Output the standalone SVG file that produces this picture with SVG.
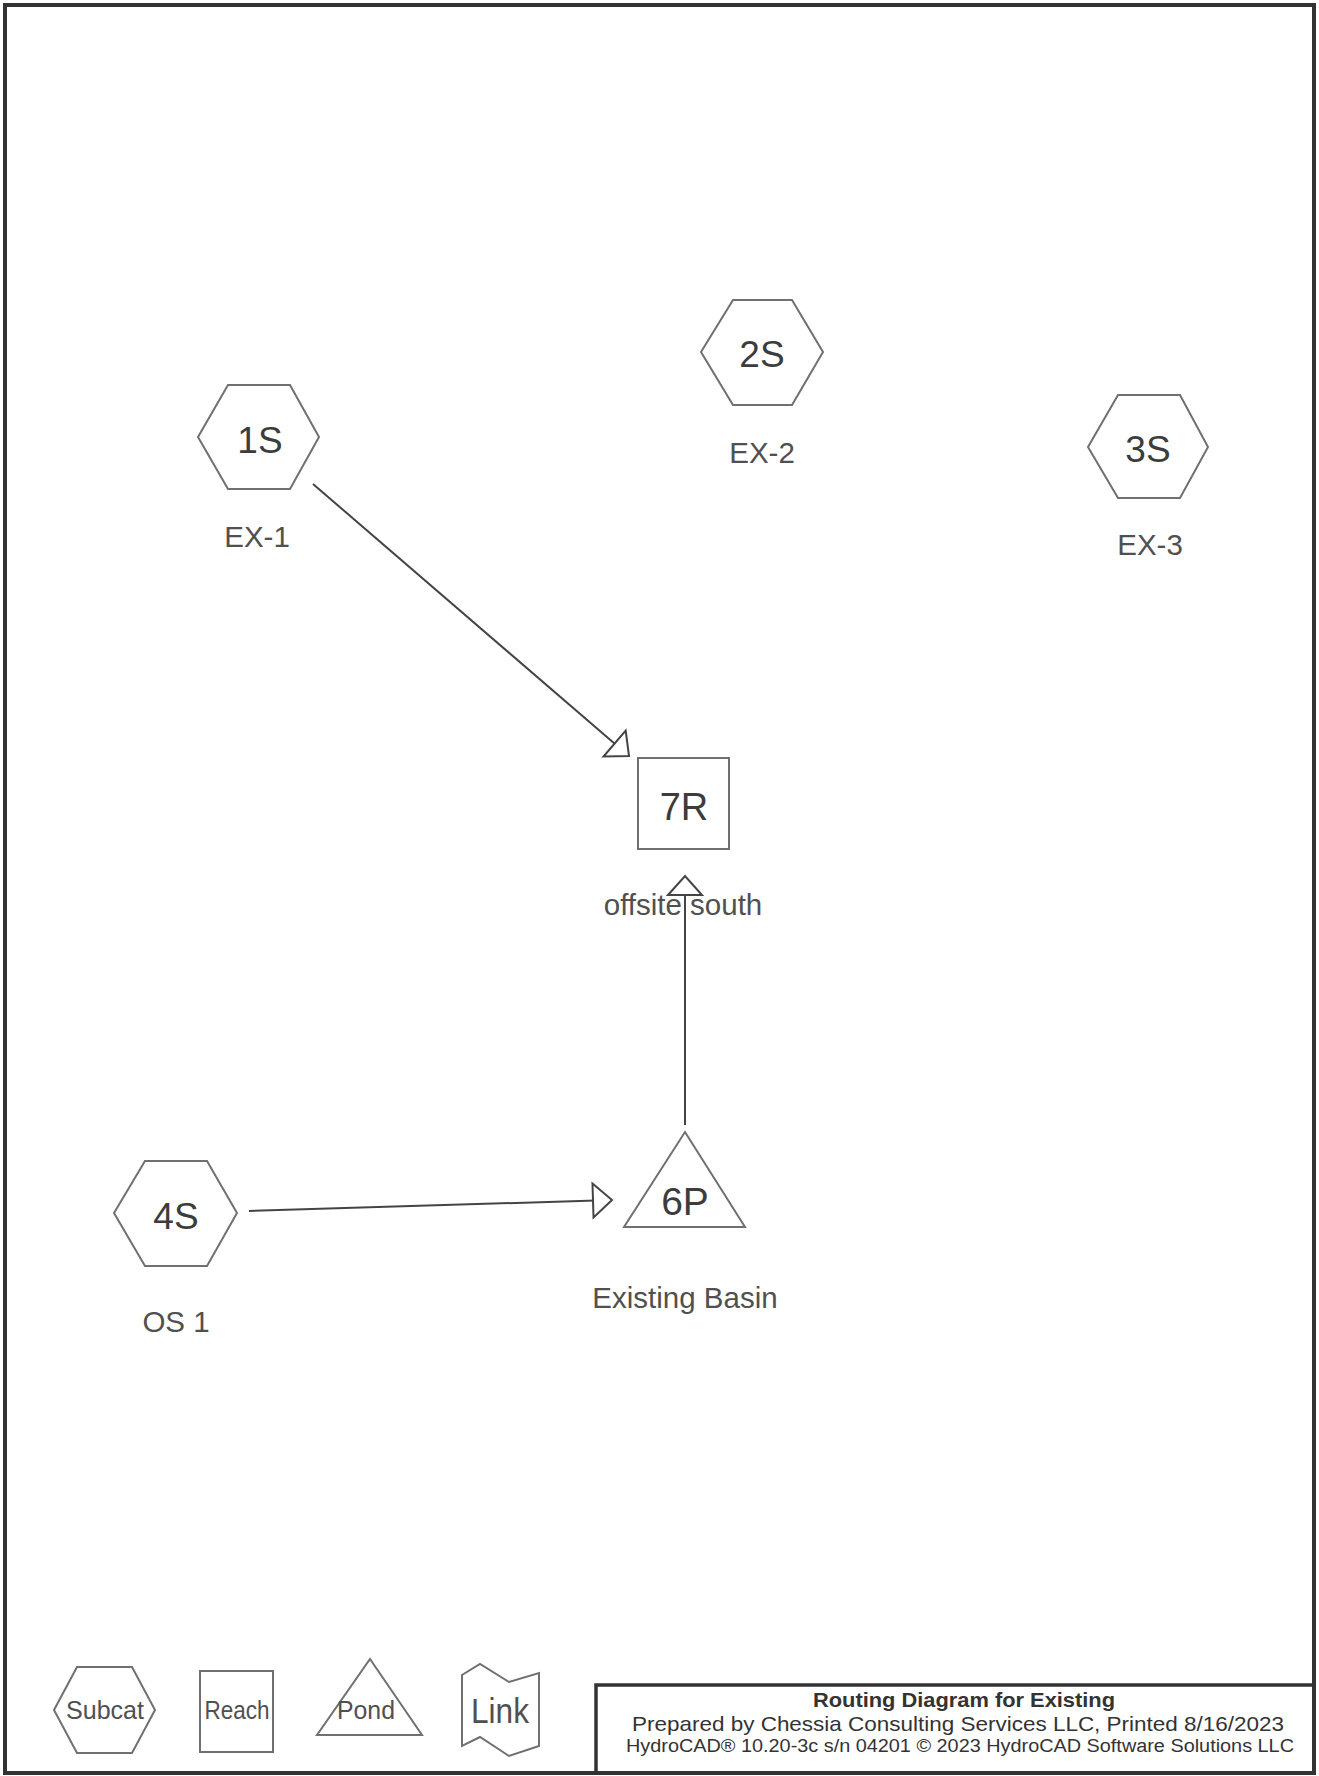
<svg xmlns="http://www.w3.org/2000/svg" width="1319" height="1776" viewBox="0 0 1319 1776">
<style>
.shape{fill:#fff;stroke:#707070;stroke-width:2}
.id{font-family:"Liberation Sans",Arial,sans-serif;font-size:37px;fill:#3c3c3c;text-anchor:middle}
.lbl{font-family:"Liberation Sans",Arial,sans-serif;font-size:29.5px;fill:#505050;text-anchor:middle}
.leg{font-family:"Liberation Sans",Arial,sans-serif;font-size:25px;fill:#505050;text-anchor:middle}
.conn{stroke:#444;stroke-width:2;fill:none}
.ft{font-family:"Liberation Sans",Arial,sans-serif;fill:#333;text-anchor:middle}
</style>
<defs>
<marker id="arr" markerUnits="userSpaceOnUse" markerWidth="24" markerHeight="40" viewBox="-2 -19 24 38" refX="19" refY="0" orient="auto">
<path d="M0,-17 L19,0 L0,17 Z" fill="#fff" stroke="#444" stroke-width="2"/>
</marker>
</defs>
<rect width="1319" height="1776" fill="#fff"/>
<rect x="5" y="5" width="1309" height="1768" fill="none" stroke="#333" stroke-width="4"/>

<g id="connectors">
<line class="conn" x1="313" y1="484" x2="629" y2="756" marker-end="url(#arr)"/>
<line class="conn" x1="685" y1="1125" x2="685" y2="876" marker-end="url(#arr)"/>
<line class="conn" x1="249" y1="1211" x2="612" y2="1200" marker-end="url(#arr)"/>
</g>

<g id="node-1S">
<polygon class="shape" points="198,437 228,385 290,385 319,437 290,489 228,489"/>
<text class="id" x="260" y="453">1S</text>
<text class="lbl" x="257" y="547">EX-1</text>
</g>
<g id="node-2S">
<polygon class="shape" points="701,352 733,300 792,300 823,352 792,405 733,405"/>
<text class="id" x="762" y="367">2S</text>
<text class="lbl" x="762" y="463">EX-2</text>
</g>
<g id="node-3S">
<polygon class="shape" points="1088,447 1118,395 1180,395 1208,447 1180,498 1118,498"/>
<text class="id" x="1148" y="462">3S</text>
<text class="lbl" x="1150" y="555">EX-3</text>
</g>
<g id="node-4S">
<polygon class="shape" points="114,1213 145,1161 207,1161 237,1213 207,1266 145,1266"/>
<text class="id" x="176" y="1229">4S</text>
<text class="lbl" x="176" y="1332">OS 1</text>
</g>
<g id="node-7R">
<rect class="shape" x="638" y="758" width="91" height="91"/>
<text class="id" x="684" y="820" style="font-size:38px">7R</text>
<text class="lbl" x="683" y="915">offsite south</text>
</g>
<g id="node-6P">
<polygon class="shape" points="685,1132 745,1227 624,1227"/>
<text class="id" x="685" y="1215" style="font-size:39px">6P</text>
<text class="lbl" x="685" y="1308">Existing Basin</text>
</g>

<g id="legend">
<g id="legend-subcat">
<polygon class="shape" points="54,1710 77,1667 132,1667 155,1710 132,1753 77,1753"/>
<text class="leg" x="105" y="1719" textLength="78" lengthAdjust="spacingAndGlyphs">Subcat</text>
</g>
<g id="legend-reach">
<rect class="shape" x="200" y="1671" width="73" height="81"/>
<text class="leg" x="237" y="1719" textLength="65" lengthAdjust="spacingAndGlyphs">Reach</text>
</g>
<g id="legend-pond">
<polygon class="shape" points="370,1659 422,1735 317,1735"/>
<text class="leg" x="366" y="1719" textLength="58" lengthAdjust="spacingAndGlyphs">Pond</text>
</g>
<g id="legend-link">
<polygon class="shape" points="462,1675 480,1664 509,1682 539,1673 539,1746 509,1756 480,1737 462,1746"/>
<text class="leg" x="500" y="1723" style="font-size:35px" textLength="58" lengthAdjust="spacingAndGlyphs">Link</text>
</g>
</g>

<g id="title-block">
<rect x="596" y="1685" width="718" height="88" fill="none" stroke="#333" stroke-width="3.5"/>
<text class="ft" x="964" y="1707" style="font-size:20px;font-weight:bold" textLength="302" lengthAdjust="spacingAndGlyphs">Routing Diagram for Existing</text>
<text class="ft" x="958" y="1731" style="font-size:21px" textLength="652" lengthAdjust="spacingAndGlyphs">Prepared by Chessia Consulting Services LLC,  Printed 8/16/2023</text>
<text class="ft" x="960" y="1752" style="font-size:18px" textLength="668" lengthAdjust="spacingAndGlyphs">HydroCAD® 10.20-3c  s/n 04201  © 2023 HydroCAD Software Solutions LLC</text>
</g>
</svg>
